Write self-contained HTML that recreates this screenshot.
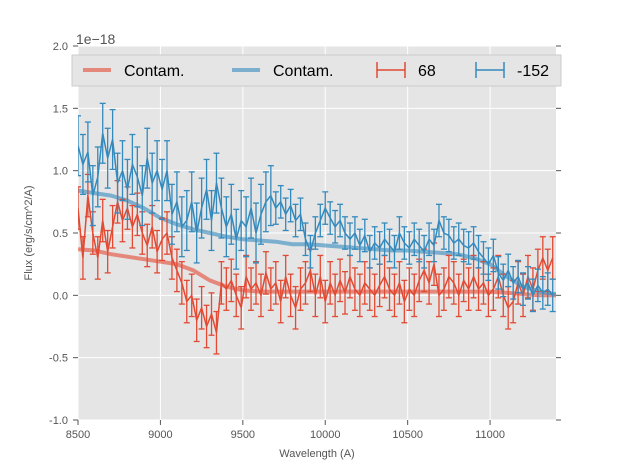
<!DOCTYPE html>
<html><head><meta charset="utf-8"><style>
body{margin:0;background:#fff;font-family:"Liberation Sans","DejaVu Sans",sans-serif}
svg text{font-family:"Liberation Sans","DejaVu Sans",sans-serif}
</style></head><body>
<svg id="chart" width="617" height="467" xmlns="http://www.w3.org/2000/svg">
<defs><clipPath id="clip"><rect x="78" y="46" width="478" height="374"/></clipPath></defs>
<rect x="78" y="46" width="478" height="374" fill="#e5e5e5"/>
<g id="grid"></g>
<g id="series" clip-path="url(#clip)"></g>
<g id="axes"></g>
<text x="76" y="44" font-size="14" fill="#555">1e−18</text>
<text x="317" y="457" font-size="11" fill="#555" text-anchor="middle">Wavelength (A)</text>
<text transform="translate(32,233) rotate(-90)" font-size="11" fill="#555" text-anchor="middle">Flux (erg/s/cm^2/A)</text>
<g>
<rect x="72" y="55" width="489" height="31" fill="#e5e5e5" stroke="#ccc"/>
<line x1="83" y1="70" x2="111" y2="70" stroke="#E24A33" stroke-opacity="0.6" stroke-width="4"/>
<text x="124" y="76" font-size="16" fill="#000">Contam.</text>
<line x1="232" y1="70" x2="260" y2="70" stroke="#348ABD" stroke-opacity="0.6" stroke-width="4"/>
<text x="273" y="76" font-size="16" fill="#000">Contam.</text>
<g stroke="#E24A33" stroke-width="1.5"><line x1="377" y1="70" x2="405" y2="70"/><line x1="377" y1="62" x2="377" y2="78"/><line x1="405" y1="62" x2="405" y2="78"/></g>
<text x="418" y="76" font-size="16" fill="#000">68</text>
<g stroke="#348ABD" stroke-width="1.5"><line x1="476" y1="70" x2="504" y2="70"/><line x1="476" y1="62" x2="476" y2="78"/><line x1="504" y1="62" x2="504" y2="78"/></g>
<text x="517" y="76" font-size="16" fill="#000">-152</text>
</g>
</svg>
<script>
const waveStart = 8500, waveStep = 30;
const blueVals = [1.2,1.05,1.15,0.8,0.95,1.3,1.1,1.25,0.9,1.0,
0.85,1.05,0.95,0.8,1.1,0.9,1.0,0.85,1.0,0.65,
0.75,0.55,0.6,0.75,0.5,0.7,0.85,0.6,0.9,0.7,
0.55,0.65,0.45,0.6,0.55,0.7,0.5,0.65,0.75,0.8,
0.7,0.75,0.65,0.72,0.6,0.65,0.45,0.35,0.5,0.6,
0.7,0.62,0.55,0.6,0.5,0.45,0.5,0.4,0.48,0.35,
0.42,0.38,0.45,0.4,0.35,0.5,0.42,0.38,0.45,0.4,
0.35,0.45,0.4,0.6,0.5,0.48,0.42,0.45,0.4,0.38,
0.42,0.35,0.3,0.25,0.32,0.18,0.12,0.2,0.1,0.15,
0.05,0.1,0.0,0.08,0.02,0.05,0.0];
const redVals = [0.7,0.3,0.8,0.5,0.3,0.6,0.35,0.55,0.75,0.6,
0.7,0.55,0.65,0.5,0.4,0.55,0.35,0.45,0.5,0.3,
0.2,0.1,-0.05,0.0,-0.2,-0.1,-0.25,-0.15,-0.3,0.1,
0.05,0.12,0.0,-0.1,0.15,0.05,0.1,0.0,0.18,0.05,
0.1,-0.05,0.15,0.0,-0.1,0.05,0.1,0.2,0.0,0.15,
-0.05,0.1,0.0,0.12,0.02,0.15,0.05,0.0,0.1,0.05,
0.0,0.08,0.15,0.05,0.0,0.1,-0.05,0.05,0.0,0.12,
0.2,0.1,0.25,0.0,0.05,0.15,0.1,0.0,0.12,0.05,
0.15,0.05,0.1,0.0,0.05,0.15,0.0,-0.1,-0.05,0.1,
0.0,0.15,0.05,0.2,0.3,0.2,0.3];
const blueErrEarly = 0.24, blueErrLate = 0.13, redErr = 0.17;
const contamStart = 8500, contamStep = 100;
const redContam = [0.37,0.36,0.33,0.31,0.29,0.27,0.25,0.2,0.12,0.07,0.04,0.03,0.03,0.03,0.03,0.03,0.03,0.03,0.03,0.03,0.03,0.03,0.03,0.03,0.03,0.03,0.02,0.01,0.0,0.0];
const blueContam = [0.84,0.82,0.8,0.76,0.7,0.62,0.57,0.53,0.5,0.47,0.45,0.44,0.43,0.41,0.41,0.4,0.39,0.38,0.37,0.36,0.36,0.35,0.34,0.33,0.3,0.25,0.15,0.07,0.03,0.01];
const xTicks = [8500,9000,9500,10000,10500,11000];
const yTicks = [-1.0,-0.5,0.0,0.5,1.0,1.5,2.0];

const NS="http://www.w3.org/2000/svg";
const X0=78,X1=556,Y0=420,Y1=46, xmin=8500,xmax=11400,ymin=-1,ymax=2;
const xs=v=>X0+(v-xmin)/(xmax-xmin)*(X1-X0);
const ys=v=>Y0-(v-ymin)/(ymax-ymin)*(Y0-Y1);
function mk(tag,attrs,parent){const e=document.createElementNS(NS,tag);for(const k in attrs)e.setAttribute(k,attrs[k]);parent.appendChild(e);return e;}
const grid=document.getElementById('grid'),ser=document.getElementById('series'),axes=document.getElementById('axes');
xTicks.forEach(t=>{
 const l=mk('line',{x1:xs(t),x2:xs(t),y1:Y1,y2:Y0,stroke:'#fff','stroke-width':1},grid);
 
 
 const tk=mk('line',{x1:xs(t),x2:xs(t),y1:Y0,y2:Y0+5,stroke:'#555'},axes);
 
 
 const tx=mk('text',{x:xs(t),y:Y0+18,'font-size':11,fill:'#555','text-anchor':'middle'},axes);tx.textContent=t;
 
 
});
yTicks.forEach(t=>{
 const l=mk('line',{x1:X0,x2:X1,y1:ys(t),y2:ys(t),stroke:'#fff','stroke-width':1},grid);
 
 
 mk('line',{x1:X0-5,x2:X0,y1:ys(t),y2:ys(t),stroke:'#555'},axes);
 mk('line',{x1:X1,x2:X1+5,y1:ys(t),y2:ys(t),stroke:'#555'},axes);
 const tx=mk('text',{x:X0-10,y:ys(t)+4,'font-size':11,fill:'#555','text-anchor':'end'},axes);tx.textContent=t.toFixed(1);
 
 
});
function contam(vals,color,name){
 const d=vals.map((v,i)=>(i?'L':'M')+xs(contamStart+i*contamStep).toFixed(1)+','+ys(v).toFixed(1)).join('');
 const p=mk('path',{d:d,fill:'none',stroke:color,'stroke-opacity':0.6,'stroke-width':4},ser);
 
 
}
function errSeries(vals,errFn,color,name){
 const g=mk('g',{stroke:color,'stroke-width':1.3,fill:'none'},ser);
 
 
 vals.forEach((v,i)=>{
  const x=xs(waveStart+i*waveStep),e=errFn(i);
  mk('line',{x1:x,x2:x,y1:ys(v-e),y2:ys(v+e)},g);
  mk('line',{x1:x-3,x2:x+3,y1:ys(v-e),y2:ys(v-e)},g);
  mk('line',{x1:x-3,x2:x+3,y1:ys(v+e),y2:ys(v+e)},g);
 });
 const d=vals.map((v,i)=>(i?'L':'M')+xs(waveStart+i*waveStep).toFixed(1)+','+ys(v).toFixed(1)).join('');
 mk('path',{d:d,'stroke-width':1.5},g);
}
contam(redContam,'#E24A33','red-contam-line');
contam(blueContam,'#348ABD','blue-contam-line');
errSeries(redVals,()=>redErr,'#E24A33','series-68');
errSeries(blueVals,i=>i<40?blueErrEarly:blueErrLate,'#348ABD','series-minus152');
</script>
</body></html>
